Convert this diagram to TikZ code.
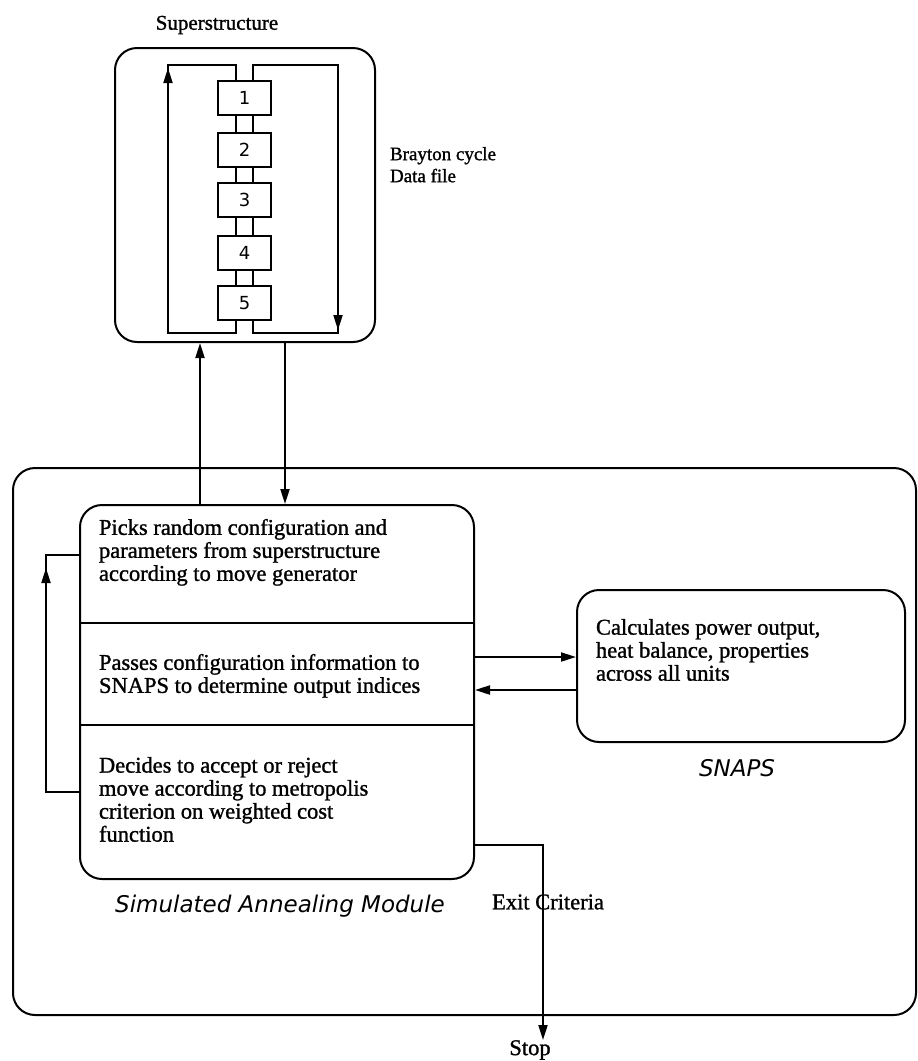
\documentclass[tikz,border=0pt]{standalone}
\usepackage{fontspec}
\setmainfont{Liberation Serif}
\newfontfamily\bodyfont{Liberation Serif}[FakeBold=1.2]
\newfontfamily\djsans{DejaVu Sans}
\usetikzlibrary{arrows.meta}
\begin{document}
\begin{tikzpicture}[x=1pt,y=-1pt, line width=2pt,
  arr/.style={-{Triangle[length=15pt,width=9pt]}},
  rbox/.style={draw, rounded corners=22pt, inner sep=0pt},
  ubox/.style={draw, minimum width=53pt, minimum height=34pt, inner sep=0pt, font=\djsans\fontsize{18}{18}\selectfont},
  body/.style={inner sep=0pt, anchor=north west, align=left, font=\bodyfont\fontsize{22.5}{23}\selectfont},
  captxt/.style={inner sep=0pt, font=\djsans\itshape\fontsize{23}{23}\selectfont},
  lbl/.style={inner sep=0pt, font=\bodyfont\fontsize{22.5}{23}\selectfont}]
\useasboundingbox (0,0) rectangle (918,1061);

% Superstructure
\node[rbox, minimum width=260pt, minimum height=294pt] (sup) at (245,195) {};
\node[ubox] (b1) at (244.5,97.5) {1};
\node[ubox] (b2) at (244.5,150) {2};
\node[ubox] (b3) at (244.5,200) {3};
\node[ubox] (b4) at (244.5,252.5) {4};
\node[ubox] (b5) at (244.5,303) {5};
\coordinate (cl) at (236,0);
\coordinate (cr) at (253,0);
\coordinate (tl) at (168,65);
\coordinate (tr) at (338,65);
\coordinate (bl) at (168,333);
\coordinate (br) at (338,333);
\coordinate (tla) at (168,68);
\coordinate (bra) at (338,330);
\foreach \a/\b in {b1/b2,b2/b3,b3/b4,b4/b5}{
  \draw (\a.south -| cl) -- (\b.north -| cl);
  \draw (\a.south -| cr) -- (\b.north -| cr);
}
\draw (b1.north -| cl) -- (cl |- tl) -- (tl) -- (bl) -- (bl -| cl) -- (b5.south -| cl);
\draw (b1.north -| cr) -- (cr |- tr) -- (tr) -- (br) -- (br -| cr) -- (b5.south -| cr);
\draw[arr] (bl) -- (tla);
\draw[arr] (tr) -- (bra);
\node[lbl, font=\bodyfont\fontsize{21}{21}\selectfont] (suplabel) at (217,25) {Superstructure};
\node[body, font=\bodyfont\fontsize{19}{22}\selectfont] (brayton) at (389,146) {Brayton cycle\\Data file};

% Simulated annealing module
\node[rbox, minimum width=903pt, minimum height=547pt] (sa) at (464.5,741.5) {};
\node[rbox, minimum width=394pt, minimum height=374pt] (pick) at (277,692) {};
\coordinate (d1) at (0,623);
\coordinate (d2) at (0,725);
\draw (pick.west |- d1) -- (pick.east |- d1);
\draw (pick.west |- d2) -- (pick.east |- d2);
\node[body] (t1) at (98,518) {Picks random configuration and\\parameters from superstructure\\according to move generator};
\node[body] (t2) at (98,653) {Passes configuration information to\\SNAPS to determine output indices};
\node[body] (t3) at (98,756) {Decides to accept or reject\\move according to metropolis\\criterion on weighted cost\\function};
\node[captxt] (salabel) at (280,906) {Simulated Annealing Module};

% connections to superstructure
\coordinate (ua) at (200,0);
\coordinate (da) at (285,0);
\draw[arr] (pick.north -| ua) -- (sup.south -| ua);
\draw[arr] (sup.south -| da) -- (pick.north -| da);

% feedback loop
\coordinate (fb1) at (46,792);
\coordinate (fb2) at (46,555);
\coordinate (fba) at (46,568);
\draw (pick.west |- fb1) -- (fb1) -- (fb2) -- (pick.west |- fb2);
\draw[arr] (fb1) -- (fba);

% SNAPS
\node[rbox, minimum width=328pt, minimum height=152pt] (snaps) at (741,666) {};
\node[body] (t4) at (595,618) {Calculates power output,\\heat balance, properties\\across all units};
\node[captxt] (snapslabel) at (737,768) {SNAPS};
\coordinate (s1) at (0,657);
\coordinate (s2) at (0,690);
\draw[arr] (pick.east |- s1) -- (snaps.west |- s1);
\draw[arr] (snaps.west |- s2) -- (pick.east |- s2);

% exit
\node[lbl] (exitlabel) at (548,902) {Exit Criteria};
\node[lbl] (stop) at (530,1050) {Stop};
\coordinate (ex) at (543,845);
\coordinate (stopt) at (543,1040);
\draw[arr] (pick.east |- ex) -- (ex) -- (stopt);
\end{tikzpicture}
\end{document}
